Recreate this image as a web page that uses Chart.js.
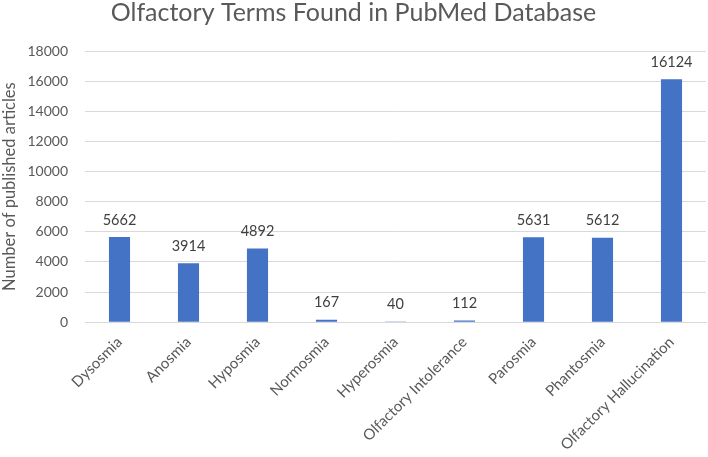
<!DOCTYPE html>
<html>
<head>
<meta charset="utf-8">
<script src="https://cdn.jsdelivr.net/npm/chart.js@4"></script>
<style>
  html, body { margin: 0; padding: 0; background: #fff; }
  #wrap { width: 708px; height: 457px; }
</style>
</head>
<body>
<div id="wrap"><canvas id="termsChart"></canvas></div>
<script>
const categories = ["Dysosmia", "Anosmia", "Hyposmia", "Normosmia", "Hyperosmia",
    "Olfactory Intolerance", "Parosmia", "Phantosmia", "Olfactory Hallucination"];
const articleCounts = [5662, 3914, 4892, 167, 40, 112, 5631, 5612, 16124];
const yTicks = [0, 2000, 4000, 6000, 8000, 10000, 12000, 14000, 16000, 18000];

// draws the number above each bar
const valueLabels = {
    id: "valueLabels",
    afterDatasetsDraw(chart) {
        const ctx = chart.ctx;
        const meta = chart.getDatasetMeta(0);
        ctx.save();
        ctx.font = "14.5px Lato";
        ctx.fillStyle = "#404040";
        ctx.textAlign = "center";
        ctx.textBaseline = "middle";
        meta.data.forEach((bar, i) => {
            ctx.fillText(articleCounts[i], bar.x, bar.y - 17);
        });
        ctx.restore();
    }
};

new Chart(document.getElementById("termsChart"), {
    type: "bar",
    data: {
        labels: categories,
        datasets: [{
            label: "Articles",
            data: articleCounts,
            backgroundColor: "#4472C4",
            barPercentage: 0.45,
            categoryPercentage: 0.68
        }]
    },
    options: {
        responsive: true,
        maintainAspectRatio: false,
        animation: false,
        layout: { padding: { left: 1, right: 2, top: 0, bottom: 0 } },
        plugins: {
            legend: { display: false },
            tooltip: { enabled: false },
            title: {
                display: true,
                text: "Olfactory Terms Found in PubMed Database",
                color: "#595959",
                font: { family: "Lato", size: 25, weight: "normal", lineHeight: 1 },
                padding: { top: 0, bottom: 26 }
            }
        },
        scales: {
            x: {
                grid: { display: false },
                border: { color: "#d9d9d9" },
                ticks: {
                    color: "#595959",
                    font: { family: "Lato", size: 15 },
                    minRotation: 45,
                    maxRotation: 45,
                    autoSkip: false
                },
                // rotated first label should not push the plot to the right
                afterFit(scale) {
                    scale.paddingLeft = 0;
                }
            },
            y: {
                min: 0,
                max: 18000,
                afterBuildTicks(axis) {
                    axis.ticks = yTicks.map(v => ({ value: v }));
                },
                afterFit(scale) {
                    scale.width = 84;
                },
                grid: { color: "#d9d9d9", drawTicks: false },
                border: { display: false },
                ticks: {
                    color: "#595959",
                    font: { family: "Lato", size: 14 },
                    padding: 17,
                    callback: value => String(value)
                },
                title: {
                    display: true,
                    text: "Number of published articles",
                    color: "#595959",
                    font: { family: "Lato", size: 16.5, lineHeight: 1 },
                    padding: { top: 0, bottom: 4 }
                }
            }
        }
    },
    plugins: [valueLabels]
});
</script>
</body>
</html>
